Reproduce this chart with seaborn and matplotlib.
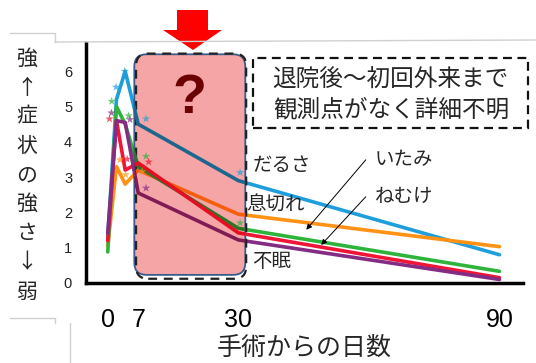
import numpy as np
import pandas as pd
import seaborn as sns
import matplotlib.pyplot as plt
import matplotlib.colors as mcolors
from matplotlib.patches import FancyBboxPatch, Polygon, Rectangle
from matplotlib.lines import Line2D

sns.set_style('white')
plt.rcParams['font.family'] = ['Noto Sans CJK JP', 'DejaVu Sans']

# days after surgery
days = [0, 2, 4, 7, 30, 90]

# symptom scores
darusa = [1.3, 5.2, 6.0, 4.5, 2.9, 0.8]     # だるさ
ikigire = [1.05, 3.3, 2.8, 3.2, 1.95, 1.03]  # 息切れ
itami = [0.88, 5.0, 4.5, 3.3, 1.55, 0.33]    # いたみ
nemuke = [1.2, 4.6, 3.2, 3.4, 1.42, 0.15]    # ねむけ
fumin = [1.42, 4.6, 4.55, 2.55, 1.22, 0.1]   # 不眠

symptoms = ['だるさ', '息切れ', 'いたみ', 'ねむけ', '不眠']
palette = {'だるさ': '#1e9fdc', '息切れ': '#ff9214', 'いたみ': '#2eb43a',
           'ねむけ': '#f01436', '不眠': '#842c84'}

# significance stars
star_x = {'だるさ': [1.9, 3.9, 8.8, 30.4], '息切れ': [2.8, 4.1, 7.9],
          'いたみ': [0.9, 4.8, 8.8, 30.4], 'ねむけ': [0.4, 4.45, 9.4],
          '不眠': [0.85, 5.1, 8.8]}
star_y = {'だるさ': [5.55, 6.0, 4.65, 3.13], '息切れ': [3.49, 3.07, 3.16],
          'いたみ': [5.15, 4.74, 3.59, 1.7], 'ねむけ': [4.65, 3.51, 3.43],
          '不眠': [4.82, 4.63, 2.69]}

x_ticks = [0, 7, 30, 90]
y_ticks = [0, 1, 2, 3, 4, 5, 6]

df = pd.DataFrame({
    'day': days * 5,
    'score': darusa + ikigire + itami + nemuke + fumin,
    'symptom': [s for s in symptoms for _ in days],
})
stars = pd.DataFrame({
    'day': sum([star_x[s] for s in symptoms], []),
    'score': sum([star_y[s] for s in symptoms], []),
    'symptom': [s for s in symptoms for _ in star_x[s]],
})

W, H = 536, 363
fig = plt.figure(figsize=(W / 100, H / 100), dpi=100)
ax = fig.add_axes([86 / W, 1 - 283 / H, (523 - 86) / W, (283 - 43) / H])

sns.lineplot(data=df, x='day', y='score', hue='symptom', hue_order=symptoms,
             palette=palette, lw=2.6, legend=False, estimator=None, sort=False, ax=ax)

ax.set_xlim(-5, 95.4)
ax.set_ylim(0, 6.8)

# pink "unknown" box, lines inside look multiplied by the pink
box_c = '#f5a5a5'
box = FancyBboxPatch((6.1, 0.23), 25.5, 6.25, boxstyle='round,pad=0,rounding_size=2.8',
                     mutation_aspect=0.123, fc=box_c, ec='#3b5b8c', lw=1.3, zorder=3)
ax.add_patch(box)
bc = np.array(mcolors.to_rgb(box_c))
for s in symptoms:
    sub = df[df.symptom == s]
    c = np.array(mcolors.to_rgb(palette[s])) * bc
    ln, = ax.plot(sub.day, sub.score, color=c, lw=2.6, zorder=4)
    ln.set_clip_path(box)

sns.scatterplot(data=stars, x='day', y='score', hue='symptom', palette=palette,
                marker='*', s=40, alpha=0.7, linewidth=0, legend=False, zorder=5, ax=ax)

ax.add_patch(FancyBboxPatch((6.5, 0.12), 25.3, 6.38, boxstyle='round,pad=0,rounding_size=2.8',
                            mutation_aspect=0.123, fc='none', ec='#222222', lw=1.6,
                            ls=(0, (4, 3)), zorder=3.5, clip_on=False))
ax.text(18.7, 5.2, '?', fontsize=40, fontweight='bold', color='#6a0000',
        family='Liberation Sans', ha='center', va='center', zorder=6)

# series labels
ax.text(33.2, 3.32, 'だるさ', fontsize=14, va='center')
ax.text(31.8, 2.19, '息切れ', fontsize=14, va='center')
ax.text(33.2, 0.6, '不眠', fontsize=14, va='center')
ax.text(61.3, 3.49, 'いたみ', fontsize=14, va='center')
ax.text(61.3, 2.44, 'ねむけ', fontsize=14, va='center')
ax.annotate('', xy=(45.2, 1.45), xytext=(59.7, 3.55),
            arrowprops=dict(arrowstyle='-|>', color='black', lw=0.7, mutation_scale=8))
ax.annotate('', xy=(48.6, 1.02), xytext=(59.7, 2.5),
            arrowprops=dict(arrowstyle='-|>', color='black', lw=0.7, mutation_scale=8))

# axes styling
sns.despine(ax=ax)
for sp in ['left', 'bottom']:
    ax.spines[sp].set_color('black')
    ax.spines[sp].set_linewidth(2.5)
ax.set_yticks(y_ticks)
ax.set_yticklabels([str(v) for v in y_ticks], fontsize=10.5, color='#222222', family='Liberation Sans')
ax.set_xticks(x_ticks)
ax.set_xticklabels([str(v) for v in x_ticks], fontsize=18, color='black', family='Liberation Sans')
ax.tick_params(axis='y', length=7, width=1, color='#888888', pad=3)
ax.tick_params(axis='x', length=6, width=1, color='#888888', pad=12)
ax.set_xlabel('手術からの日数', fontsize=18, labelpad=2)
ax.set_ylabel('')

# vertical y label
fig.text(27 / W, 1 - 175 / H, '\n'.join('強↑症状の強さ↓弱'), fontsize=15,
         ha='center', va='center', linespacing=1.42)

# faint slide frame lines
def px_line(xs, ys):
    fig.add_artist(Line2D([x / W for x in xs], [1 - y / H for y in ys], color='#d0d0d0', lw=1))

px_line([10, 55, 55], [33, 33, 42])
px_line([55, 536], [42, 40])
px_line([10, 55, 55], [318, 318, 323])
px_line([70, 70], [323, 363])

# red arrow on top
arrow = [(177, 10), (208, 10), (208, 30), (222, 30), (193, 50), (163, 30), (177, 30)]
fig.add_artist(Polygon([(x / W, 1 - y / H) for x, y in arrow], closed=True,
                       fc='#ff0000', ec='none', transform=fig.transFigure))

# dashed note box
fig.add_artist(Rectangle((253 / W, 1 - 128 / H), 275 / W, 70 / H, fc='white', ec='#111111',
                         lw=1.6, ls=(0, (4, 2.5)), transform=fig.transFigure))
fig.text(390 / W, 1 - 80 / H, '退院後～初回外来まで', fontsize=17, ha='center', va='center')
fig.text(391 / W, 1 - 110 / H, '観測点がなく詳細不明', fontsize=17, ha='center', va='center')

fig.savefig('out.png', dpi=100)
